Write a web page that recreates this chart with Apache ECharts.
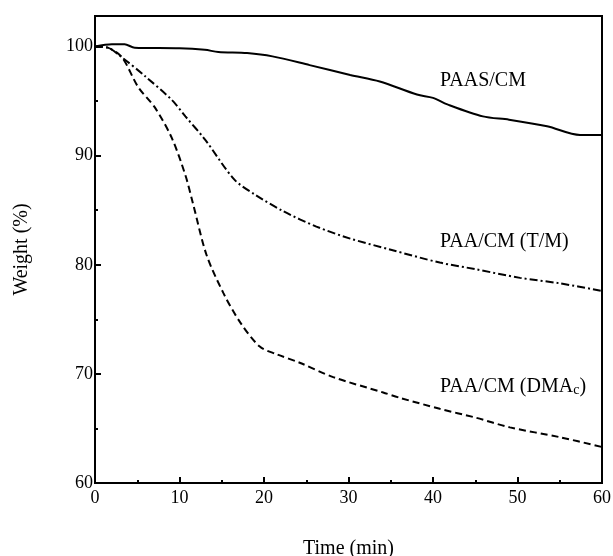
<!DOCTYPE html>
<html>
<head>
	<meta charset="utf-8">
	<style>
		html, body { margin: 0; padding: 0; background: #fff; }
		#chart { width: 613px; height: 556px; }
	</style>
</head>
<body>
	<div id="chart"></div>
	<script src="https://cdn.jsdelivr.net/npm/echarts@6/dist/echarts.min.js"></script>
	<script>
	// weight loss vs time
	var paasCM = [[0,100],[2,100.2],[3.5,100.2],[4.7,99.9],[10,99.85],[13,99.7],[14.6,99.5],[18,99.4],
		[21,99.1],[25.4,98.3],[30.2,97.4],[33.7,96.8],[38.1,95.6],[40,95.3],[41.7,94.7],[45.9,93.6],
		[49,93.3],[53.5,92.7],[57.4,91.9],[60,91.9]];
	var paaTM = [[0,100],[1.5,99.9],[3.2,99],[5.9,97.3],[9.1,95.1],[10.7,93.6],[13,91.5],[16.5,87.8],
		[19,86.4],[22.3,84.9],[26.2,83.5],[30.2,82.4],[34.9,81.4],[40.8,80.2],[45,79.6],[50.3,78.8],
		[55,78.3],[60,77.6]];
	var paaDMAc = [[0,100],[1.5,99.9],[3.2,99],[5.1,96.3],[7.1,94.4],[9.1,91.6],[10.7,88.2],[11.6,85.6],
		[13.2,80.9],[15.2,77.4],[17.2,74.7],[19.5,72.5],[21.5,71.8],[24.3,71],[28.2,69.7],[34.1,68.3],
		[36.1,67.8],[40.8,66.8],[45,66],[49.1,65.1],[55,64.2],[60,63.3]];
	var xTicks = { min: 0, max: 60, step: 10 };
	var yTicks = { min: 60, max: 102.8, step: 10 };

	var font = '"Liberation Serif", "DejaVu Serif", serif';
	var chart = echarts.init(document.getElementById('chart'));

	var mkLine = function(name, data, type) {
		return {
			name: name,
			type: 'line',
			data: data,
			symbol: 'none',
			smooth: 0.3,
			lineStyle: { color: '#000', width: 2, type: type }
		};
	};

	chart.setOption({
		backgroundColor: '#fff',
		animation: false,
		grid: {
			left: 95, right: 11, top: 16, bottom: 73,
			outerBoundsMode: 'none',
			show: true, borderColor: '#000', borderWidth: 2
		},
		xAxis: {
			type: 'value',
			min: xTicks.min, max: xTicks.max, interval: xTicks.step,
			name: 'Time (min)', nameLocation: 'middle', nameGap: 56,
			nameTextStyle: { fontFamily: font, fontSize: 20, color: '#000' },
			axisLine: { lineStyle: { color: '#000', width: 2 } },
			axisTick: { inside: true, length: 6, lineStyle: { color: '#000', width: 2 } },
			minorTick: { show: true, splitNumber: 2, length: 3, lineStyle: { color: '#000', width: 2 } },
			splitLine: { show: false },
			axisLabel: { fontFamily: font, fontSize: 18, color: '#000', margin: 6 }
		},
		yAxis: {
			type: 'value',
			min: yTicks.min, max: yTicks.max, interval: yTicks.step,
			name: 'Weight (%)', nameLocation: 'middle', nameGap: 63,
			nameTextStyle: { fontFamily: font, fontSize: 20, color: '#000' },
			axisLine: { lineStyle: { color: '#000', width: 2 } },
			axisTick: { inside: true, length: 6, lineStyle: { color: '#000', width: 2 } },
			minorTick: { show: true, splitNumber: 2, length: 3, lineStyle: { color: '#000', width: 2 } },
			splitLine: { show: false },
			axisLabel: {
				fontFamily: font, fontSize: 18, color: '#000', margin: 2,
				showMaxLabel: false,
				formatter: function(v) { return v % 10 === 0 ? v : ''; }
			}
		},
		series: [
			mkLine('PAAS/CM', paasCM, 'solid'),
			mkLine('PAA/CM (T/M)', paaTM, [8, 3, 2, 3]),
			mkLine('PAA/CM (DMAc)', paaDMAc, [7, 4])
		],
		graphic: [
			{ type: 'text', left: 440, top: 71, style: { text: 'PAAS/CM', font: '20px ' + font, fill: '#000' } },
			{ type: 'text', left: 440, top: 232, style: { text: 'PAA/CM (T/M)', font: '20px ' + font, fill: '#000' } },
			{ type: 'text', left: 440, top: 377, style: {
				text: 'PAA/CM (DMA{s|c})', font: '20px ' + font, fill: '#000',
				rich: { s: { fontFamily: font, fontSize: 14, verticalAlign: 'bottom', padding: [6, 0, 0, 0] } }
			} }
		]
	});
	</script>
</body>
</html>
